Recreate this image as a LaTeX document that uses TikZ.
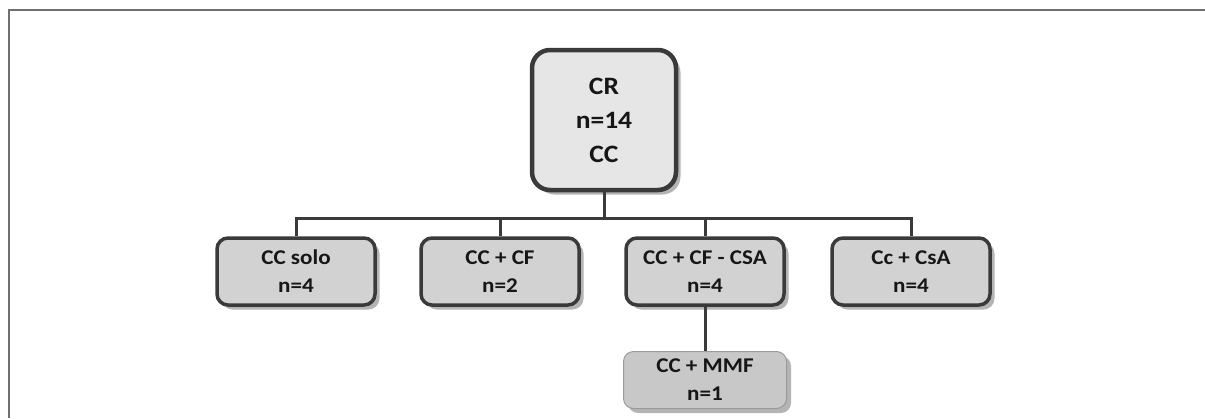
\documentclass[tikz,border=0pt]{standalone}
\usepackage{fontspec}
\newfontfamily\cbf[FakeStretch=1.1]{Carlito}
\usetikzlibrary{shadows}
\definecolor{bordc}{HTML}{3A3A3A}
\definecolor{rootfill}{HTML}{E6E6E6}
\definecolor{kidfill}{HTML}{D2D2D2}
\definecolor{mmffill}{HTML}{C8C8C8}
\definecolor{mmfbord}{HTML}{9A9A9A}
\definecolor{txt}{HTML}{161616}
\definecolor{framec}{HTML}{707070}
\tikzset{
  shade/.style={drop shadow={shadow xshift=4.5pt,shadow yshift=-4.5pt,fill=black!45,opacity=0.65}},
  rootbox/.style={draw=bordc,line width=4.5pt,fill=rootfill,rounded corners=18pt,shade,
    minimum width=144pt,minimum height=140pt,align=center,text=txt,
    font=\cbf\bfseries\fontsize{25}{34}\selectfont,inner sep=0pt},
  kidbox/.style={draw=bordc,line width=3.5pt,fill=kidfill,rounded corners=11pt,shade,
    minimum width=158pt,minimum height=67pt,align=center,text=txt,
    font=\cbf\bfseries\fontsize{21}{28}\selectfont,inner sep=0pt},
  mmfbox/.style={draw=mmfbord,line width=1pt,fill=mmffill,rounded corners=10pt,shade,
    minimum width=163pt,minimum height=57pt,align=center,text=txt,
    font=\cbf\bfseries\fontsize{21}{28}\selectfont,inner sep=0pt},
  conn/.style={draw=bordc,line width=3pt},
  framel/.style={draw=framec,line width=1.5pt}
}
\begin{document}
\begin{tikzpicture}[x=1pt,y=-1pt]
\useasboundingbox (0,0) rectangle (1205,418);
\coordinate (fr1) at (1205,10);
\coordinate (fr2) at (9,10);
\coordinate (fr3) at (9,418);
\draw[framel] (fr1) -- (fr2) -- (fr3);
\node[rootbox] (root) at (604,120) {CR\\n=14\\CC};
\node[kidbox] (c1) at (296,271.5) {CC solo\\n=4};
\node[kidbox] (c2) at (500,271.5) {CC + CF\\n=2};
\node[kidbox] (c3) at (705,271.5) {CC + CF - CSA\\n=4};
\node[kidbox] (c4) at (911,271.5) {Cc + CsA\\n=4};
\node[mmfbox] (mmf) at (705,380) {CC + MMF\\n=1};
\draw[conn] (root.south) -- ++(0,26) coordinate (j);
\draw[conn] (c1.north) |- (j) -| (c4.north);
\draw[conn] (c2.north) -- (c2.north |- j);
\draw[conn] (c3.north) -- (c3.north |- j);
\draw[conn] (c3.south) -- (mmf.north);
\end{tikzpicture}
\end{document}
